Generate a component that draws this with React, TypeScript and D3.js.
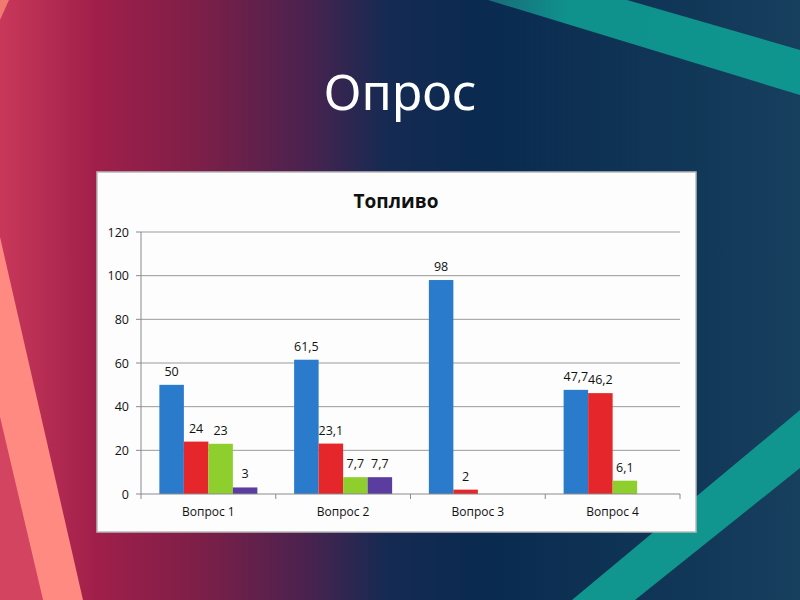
import React from 'react';
import * as d3 from 'd3';

const slideTitle = 'Опрос';
const chartTitle = 'Топливо';
const categories = ['Вопрос 1', 'Вопрос 2', 'Вопрос 3', 'Вопрос 4'];
const seriesKeys = ['blue', 'red', 'green', 'purple'];
const blueValues = [50, 61.5, 98, 47.7];
const redValues = [24, 23.1, 2, 46.2];
const greenValues = [23, 7.7, 0, 6.1];
const purpleValues = [3, 7.7, 0, 0];
const yTicks = [0, 20, 40, 60, 80, 100, 120];

const seriesValues = [blueValues, redValues, greenValues, purpleValues];
const seriesColors = ['#2a7bcb', '#e5272b', '#8fcf2d', '#5a3d9f'];

const W = 800;
const H = 600;
const box = { x: 97, y: 172, w: 599, h: 360 };
const plot = { left: 141, right: 680, top: 232, bottom: 494 };

const fmt = (v: number) => String(v).replace('.', ',');

export default function App() {
  const x0 = d3.scaleBand<string>().domain(categories).range([plot.left, plot.right]).padding(0);
  const x1 = d3
    .scaleBand<string>()
    .domain(seriesKeys)
    .range([0, x0.bandwidth()])
    .paddingInner(0)
    .paddingOuter(0.75);
  const y = d3.scaleLinear().domain([0, 120]).range([plot.bottom, plot.top]);

  const font = "'Open Sans', 'Noto Sans', sans-serif";
  const boundaries = [...categories.map((c) => x0(c) as number), plot.right];

  return (
    <div style={{ position: 'fixed', left: 0, top: 0, width: W, height: H }}>
      <svg width={W} height={H} viewBox={`0 0 ${W} ${H}`} style={{ display: 'block' }}>
        <defs>
          <linearGradient id="bg" x1="0" y1="0" x2="1" y2="0">
            <stop offset="0" stopColor="#c8385a" />
            <stop offset="0.12" stopColor="#a01f4a" />
            <stop offset="0.25" stopColor="#7c1f48" />
            <stop offset="0.38" stopColor="#4c224f" />
            <stop offset="0.48" stopColor="#162a52" />
            <stop offset="0.6" stopColor="#0a2a50" />
            <stop offset="0.8" stopColor="#0f3455" />
            <stop offset="1" stopColor="#173f5e" />
          </linearGradient>
          <linearGradient id="tealTop" x1="0" y1="0" x2="1" y2="0">
            <stop offset="0" stopColor="#1a6a78" />
            <stop offset="0.25" stopColor="#0f918c" />
            <stop offset="1" stopColor="#0f958f" />
          </linearGradient>
        </defs>
        <rect x={0} y={0} width={W} height={H} fill="url(#bg)" />
        {/* decorative stripes */}
        <polygon points="0,417 43,600 0,600" fill="#d2445f" />
        <polygon points="0,237 83,600 43,600 0,417" fill="#ff8a82" />
        <polygon points="0,0 9,0 0,20" fill="#f07a70" />
        <polygon points="488,0 627,0 800,50 800,95" fill="url(#tealTop)" />
        <polygon points="572,600 635,600 800,468 800,410" fill="#11968f" />

        <text
          x={400}
          y={110}
          textAnchor="middle"
          fill="#ffffff"
          fontFamily="'Noto Sans', 'Open Sans', sans-serif"
          fontSize={50}
        >
          {slideTitle}
        </text>

        {/* chart image */}
        <rect x={box.x} y={box.y} width={box.w} height={box.h} fill="#fdfdfd" stroke="#b8b8b8" strokeWidth={1.5} />
        <text
          x={396}
          y={208}
          textAnchor="middle"
          fill="#111"
          fontFamily={font}
          fontWeight={700}
          fontSize={19}
        >
          {chartTitle}
        </text>

        {/* gridlines and y ticks */}
        {yTicks.map((t) => (
          <g key={t}>
            {t > 0 && (
              <line x1={plot.left} x2={plot.right} y1={y(t)} y2={y(t)} stroke="#9a9a9a" strokeWidth={1} />
            )}
            <line x1={plot.left - 5} x2={plot.left} y1={y(t)} y2={y(t)} stroke="#8a8a8a" strokeWidth={1} />
            <text x={plot.left - 12} y={y(t) + 4.5} textAnchor="end" fill="#111" fontFamily={font} fontSize={12.5}>
              {t}
            </text>
          </g>
        ))}
        <line x1={plot.left} x2={plot.left} y1={plot.top} y2={plot.bottom} stroke="#8a8a8a" strokeWidth={1} />

        {/* bars */}
        {categories.map((c, ci) => (
          <g key={c} transform={`translate(${x0(c)},0)`}>
            {seriesKeys.map((s, si) => {
              const v = seriesValues[si][ci];
              const bx = x1(s) as number;
              return (
                <g key={s}>
                  {v > 0 && (
                    <rect
                      x={bx}
                      y={y(v)}
                      width={x1.bandwidth()}
                      height={y(0) - y(v)}
                      fill={seriesColors[si]}
                    />
                  )}
                  {v > 0 && (
                    <text
                      x={bx + x1.bandwidth() / 2}
                      y={y(v) - 9}
                      textAnchor="middle"
                      fill="#111"
                      fontFamily={font}
                      fontSize={12.5}
                    >
                      {fmt(v)}
                    </text>
                  )}
                </g>
              );
            })}
          </g>
        ))}

        {/* x axis */}
        <line x1={plot.left} x2={plot.right} y1={plot.bottom} y2={plot.bottom} stroke="#8a8a8a" strokeWidth={1} />
        {boundaries.map((b, i) => (
          <line key={i} x1={b} x2={b} y1={plot.bottom} y2={plot.bottom + 5} stroke="#8a8a8a" strokeWidth={1} />
        ))}
        {categories.map((c) => (
          <text
            key={c}
            x={(x0(c) as number) + x0.bandwidth() / 2}
            y={516}
            textAnchor="middle"
            fill="#111"
            fontFamily={font}
            fontSize={12}
          >
            {c}
          </text>
        ))}
      </svg>
    </div>
  );
}
